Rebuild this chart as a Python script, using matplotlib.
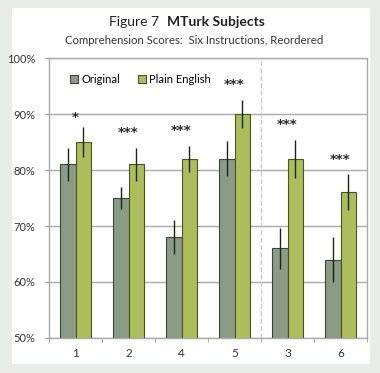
import numpy as np
import matplotlib
matplotlib.use('Agg')
from matplotlib import pyplot
from matplotlib.patches import Rectangle
import matplotlib.ticker as ticker

pyplot.rcParams['font.family'] = ['Lato', 'DejaVu Sans']

# Data
categories = ['1', '2', '4', '5', '3', '6']
original = [81, 75, 68, 82, 66, 64]
original_err = [3, 2, 3, 3.1, 3.6, 4]
plain = [85, 81, 82, 90, 82, 76]
plain_err = [2.7, 2.9, 2.3, 2.5, 3.4, 3.2]
stars = ['*', '***', '***', '***', '***', '***']

fig = pyplot.figure(figsize=(3.8, 3.73), dpi=100)
fig.patch.set_facecolor('#e9ede9')

# white panel
fig.patches.append(Rectangle((12/380, 9/373), 358/380, 356/373, transform=fig.transFigure,
                             facecolor='white', edgecolor='none', zorder=-10))

ax = fig.add_axes([49/380, 35/373, 318/380, 280/373])
ax.set_facecolor('none')

x = np.arange(len(categories))
w = 0.29
ax.bar(x - w/2, original, w, color='#8b9b85', edgecolor='#3b4636', linewidth=0.8,
       label='Original', zorder=3)
ax.bar(x + w/2, plain, w, color='#adbd5b', edgecolor='#4a5228', linewidth=0.8,
       label='Plain English', zorder=3)
ax.errorbar(x - w/2, original, yerr=original_err, fmt='none', ecolor='#1a2418', elinewidth=1, capsize=0, zorder=4)
ax.errorbar(x + w/2, plain, yerr=plain_err, fmt='none', ecolor='#1a2418', elinewidth=1, capsize=0, zorder=4)

# significance stars
for i in range(len(categories)):
    top = max(original[i] + original_err[i], plain[i] + plain_err[i])
    off = 0.6 if stars[i] == '*' else 1.6
    ax.text(x[i], top + off, stars[i], ha='center', va='bottom', fontsize=9.5, fontweight='bold',
            family='DejaVu Sans', color='#2a2a2a')

ax.set_ylim(50, 100)
ax.set_xlim(-0.5, len(categories) - 0.5)
ax.yaxis.set_major_locator(ticker.MultipleLocator(10))
ax.yaxis.set_major_formatter(ticker.FuncFormatter(lambda v, p: f'{int(v)}%'))
ax.grid(axis='y', color='#aaaaaa', linewidth=1, zorder=1)
ax.set_xticks(x)
ax.set_xticklabels(categories)
ax.xaxis.set_minor_locator(ticker.FixedLocator(np.arange(-0.5, len(categories), 1)))
ax.tick_params(axis='x', which='major', length=0, pad=7, labelsize=8.5, colors='#333333')
ax.tick_params(axis='x', which='minor', length=3, color='#999999')
ax.tick_params(axis='y', length=3, pad=7, color='#999999', labelsize=8, labelcolor='#333333')
for s in ax.spines.values():
    s.set_color('#aaaaaa')
    s.set_linewidth(1)

ax.axvline(3.5, color='#cccccc', linestyle='--', linewidth=1, zorder=2)

ax.legend(loc='upper left', bbox_to_anchor=(0.035, 0.98), ncol=2, frameon=False, fontsize=8,
          handlelength=0.7, handleheight=0.7, handletextpad=0.3, columnspacing=1.6)

fig.text(159/380, 1 - 22/373, 'Figure 7', ha='right', va='center', fontsize=10, color='#222222')
fig.text(167/380, 1 - 22/373, 'MTurk Subjects', ha='left', va='center', fontsize=10,
         fontweight='bold', color='#222222')
fig.text(194/380, 1 - 40/373, 'Comprehension Scores:  Six Instructions, Reordered', ha='center',
         va='center', fontsize=8.2, color='#333333')

fig.savefig('out.png', dpi=100)
